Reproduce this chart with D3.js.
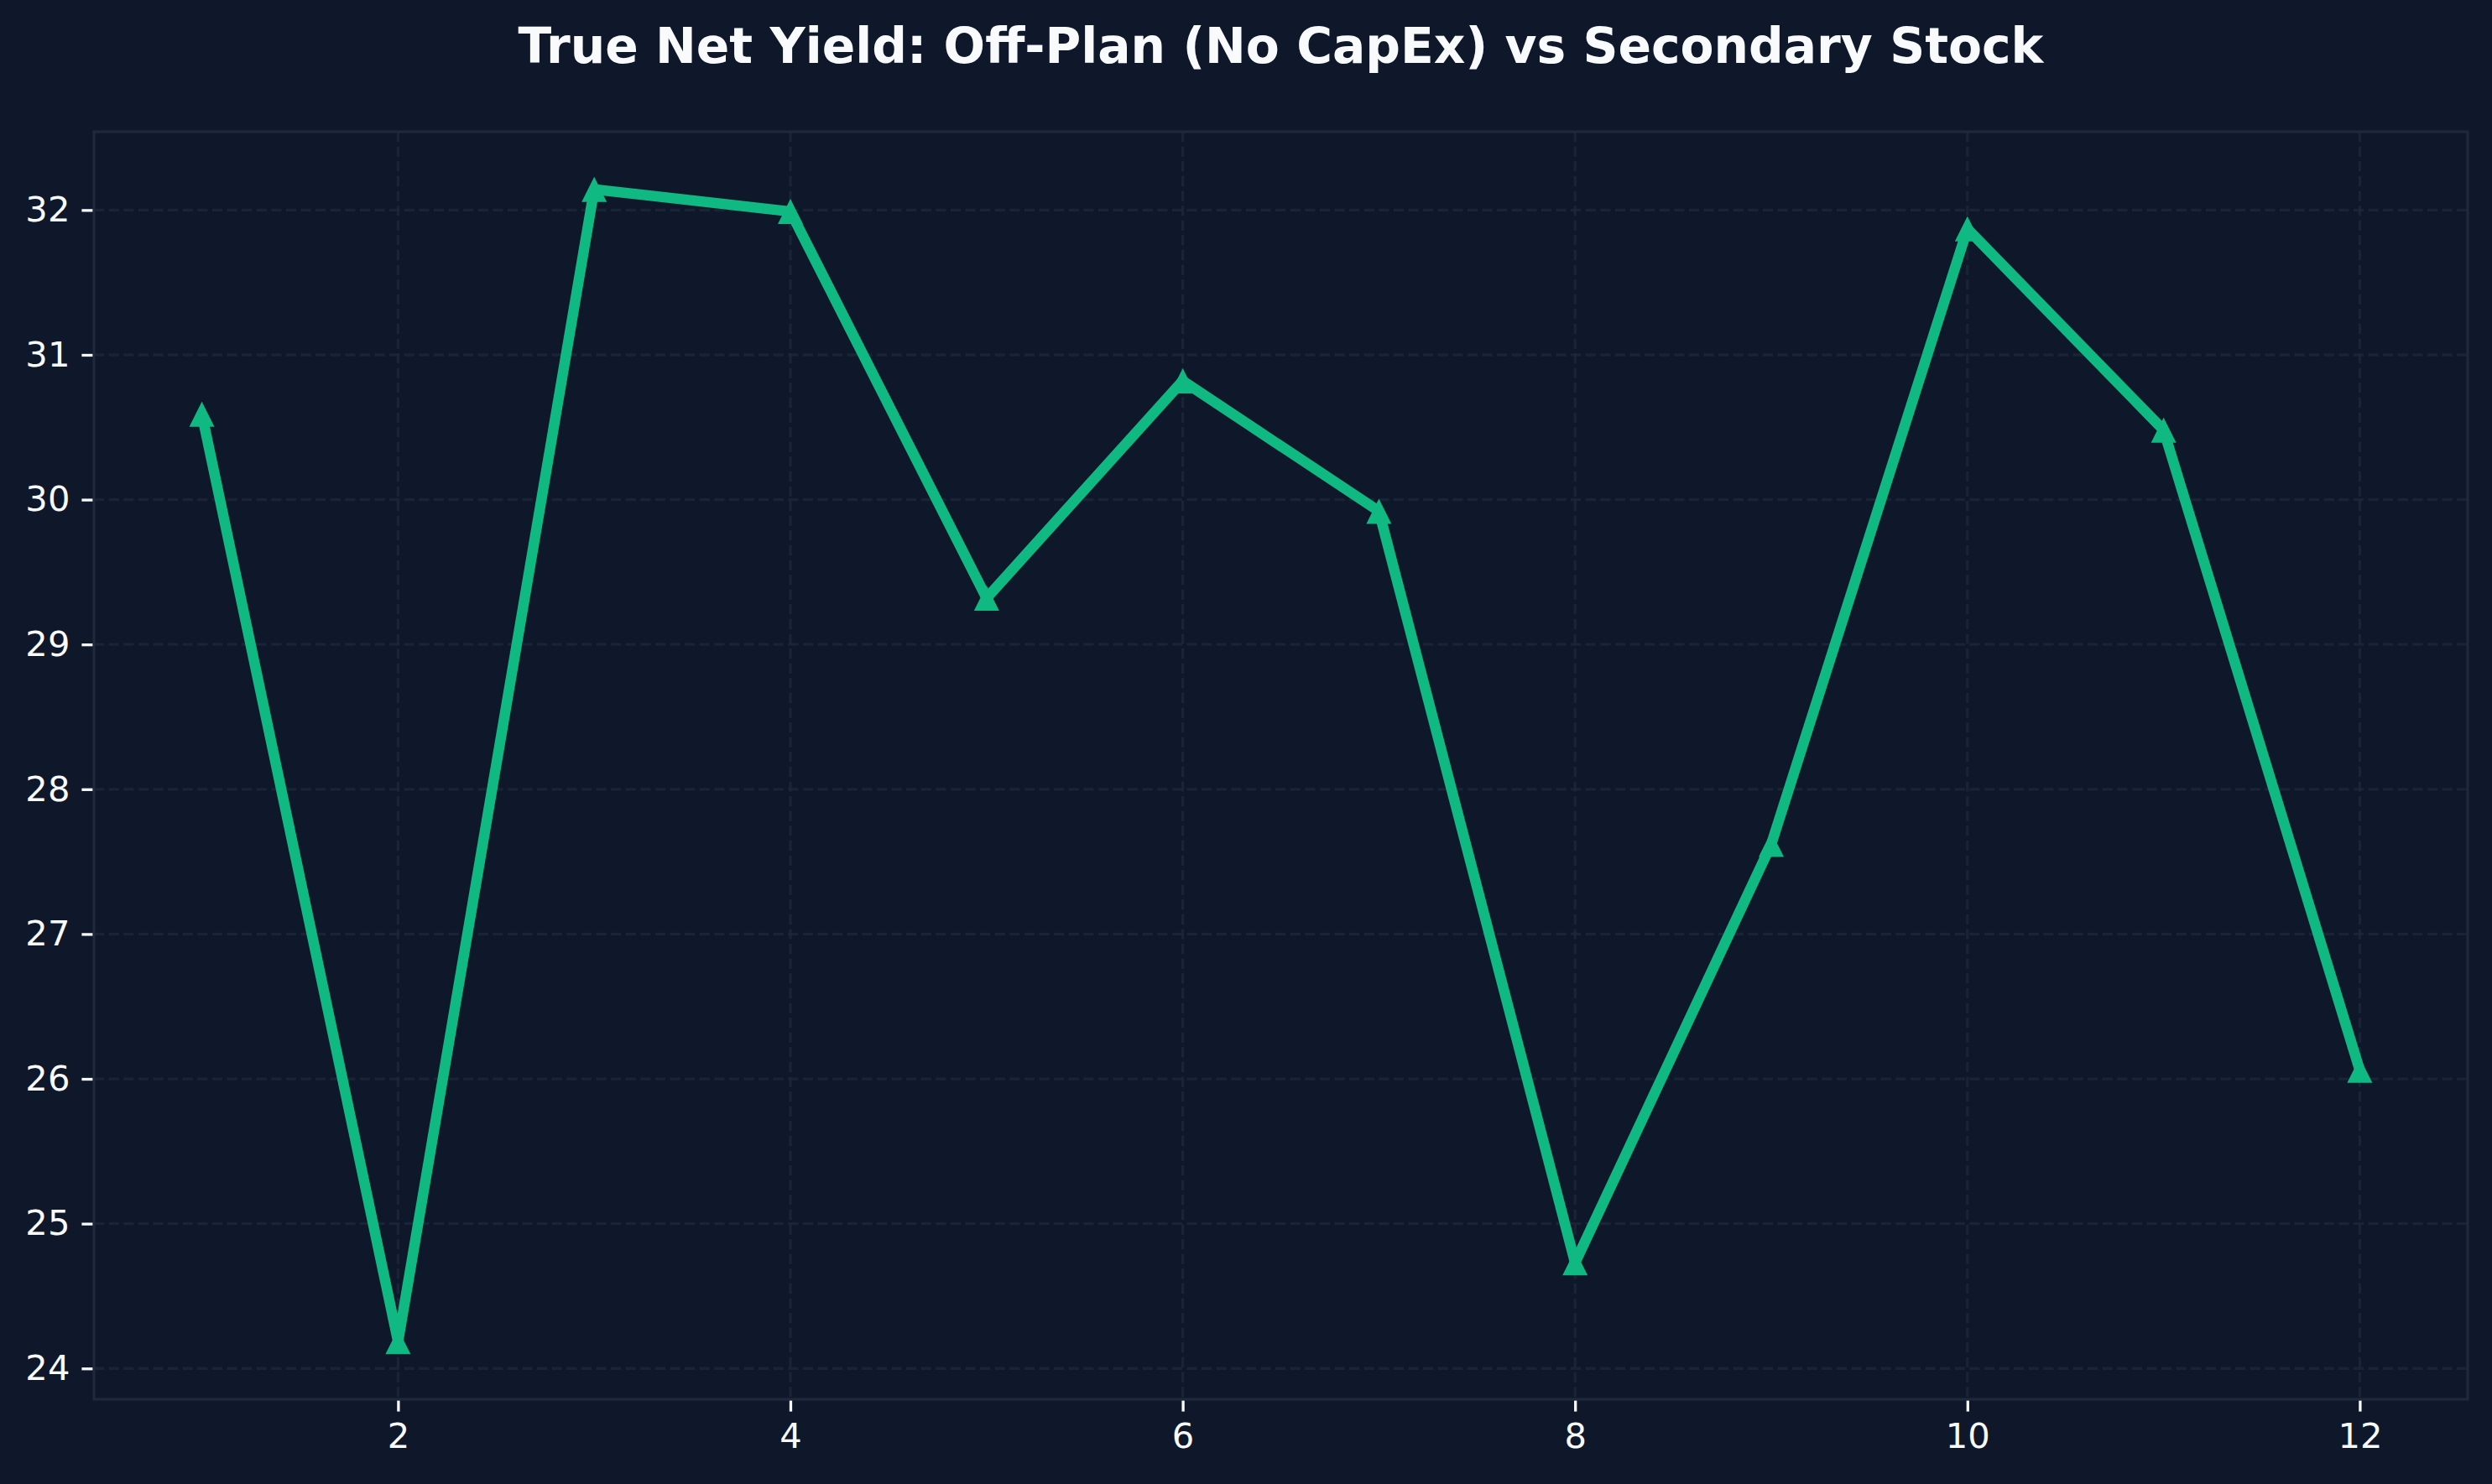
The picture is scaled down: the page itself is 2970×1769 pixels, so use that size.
<!DOCTYPE html>
<html>
<head>
<meta charset="utf-8">
<script src="https://cdn.jsdelivr.net/npm/d3@7"></script>
<style>
  html, body { margin: 0; padding: 0; background: #0f172a; }
  svg { display: block; }
</style>
</head>
<body>
<script>
// ---- data ----
const periods = [1, 2, 3, 4, 5, 6, 7, 8, 9, 10, 11, 12];
const yieldValues = [30.59, 24.185, 32.143, 31.99, 29.32, 30.82, 29.92, 24.73, 27.62, 31.87, 30.48, 26.06];
const xTicks = [2, 4, 6, 8, 10, 12];
const yTicks = [24, 25, 26, 27, 28, 29, 30, 31, 32];
const titleText = "True Net Yield: Off-Plan (No CapEx) vs Secondary Stock";

// ---- layout ----
const W = 2970, H = 1769;
const margin = { left: 112, right: W - 2941, top: 157, bottom: H - 1668 };
const bg = "#0f172a", lineColor = "#10b981", gridColor = "#1e293b", spineColor = "#1e293b", textColor = "#f8fafc";

const svg = d3.select("body").append("svg")
  .attr("width", W).attr("height", H)
  .style("background", bg);

svg.append("rect").attr("width", W).attr("height", H).attr("fill", bg);

const x0 = d3.min(periods), x1 = d3.max(periods);
const xr = x1 - x0;
const y0 = d3.min(yieldValues), y1 = d3.max(yieldValues);
const yrng = y1 - y0;

const x = d3.scaleLinear()
  .domain([x0 - 0.05 * xr, x1 + 0.05 * xr])
  .range([margin.left, W - margin.right]);
const y = d3.scaleLinear()
  .domain([y0 - 0.05 * yrng, y1 + 0.05 * yrng])
  .range([H - margin.bottom, margin.top]);

const plotL = margin.left, plotR = W - margin.right, plotT = margin.top, plotB = H - margin.bottom;

// grid
const grid = svg.append("g");
grid.selectAll("line.hg").data(yTicks).enter().append("line")
  .attr("x1", plotL).attr("x2", plotR)
  .attr("y1", d => y(d)).attr("y2", d => y(d))
  .attr("stroke", gridColor).attr("stroke-width", 3.3)
  .attr("stroke-dasharray", "12.3,5.3").attr("opacity", 0.75);
grid.selectAll("line.vg").data(xTicks).enter().append("line")
  .attr("y1", plotT).attr("y2", plotB)
  .attr("x1", d => x(d)).attr("x2", d => x(d))
  .attr("stroke", gridColor).attr("stroke-width", 3.3)
  .attr("stroke-dasharray", "12.3,5.3").attr("opacity", 0.75);

// axes
const xAxis = d3.axisBottom(x).tickValues(xTicks).tickFormat(d3.format("d"))
  .tickSizeInner(14.6).tickSizeOuter(0).tickPadding(14);
const yAxis = d3.axisLeft(y).tickValues(yTicks).tickFormat(d3.format("d"))
  .tickSizeInner(14.6).tickSizeOuter(0).tickPadding(14);

const gx = svg.append("g").attr("transform", `translate(0,${plotB})`).call(xAxis);
const gy = svg.append("g").attr("transform", `translate(${plotL},0)`).call(yAxis);
[gx, gy].forEach(g => {
  g.select(".domain").remove();
  g.selectAll(".tick line").attr("stroke", textColor).attr("stroke-width", 3.3);
  g.selectAll(".tick text").attr("fill", textColor)
    .style("font-family", "'DejaVu Sans', sans-serif").style("font-size", "41.7px");
});

// spines
svg.append("rect")
  .attr("x", plotL).attr("y", plotT)
  .attr("width", plotR - plotL).attr("height", plotB - plotT)
  .attr("fill", "none").attr("stroke", spineColor).attr("stroke-width", 3.3);

// line
const line = d3.line().x((d, i) => x(periods[i])).y(d => y(d));
svg.append("path").datum(yieldValues)
  .attr("d", line)
  .attr("fill", "none").attr("stroke", lineColor)
  .attr("stroke-width", 12.5).attr("stroke-linejoin", "round").attr("stroke-linecap", "butt");

// markers (triangle up)
const ms = 30;
svg.append("g").selectAll("path").data(yieldValues).enter().append("path")
  .attr("transform", (d, i) => `translate(${x(periods[i])},${y(d)})`)
  .attr("d", `M0,${-ms / 2}L${-ms / 2},${ms / 2}L${ms / 2},${ms / 2}Z`)
  .attr("fill", lineColor);

// title
svg.append("text")
  .attr("x", (plotL + plotR) / 2).attr("y", 75)
  .attr("text-anchor", "middle")
  .attr("fill", textColor)
  .style("font-family", "'DejaVu Sans', sans-serif")
  .style("font-weight", "bold").style("font-size", "58.3px")
  .text(titleText);
</script>
</body>
</html>
